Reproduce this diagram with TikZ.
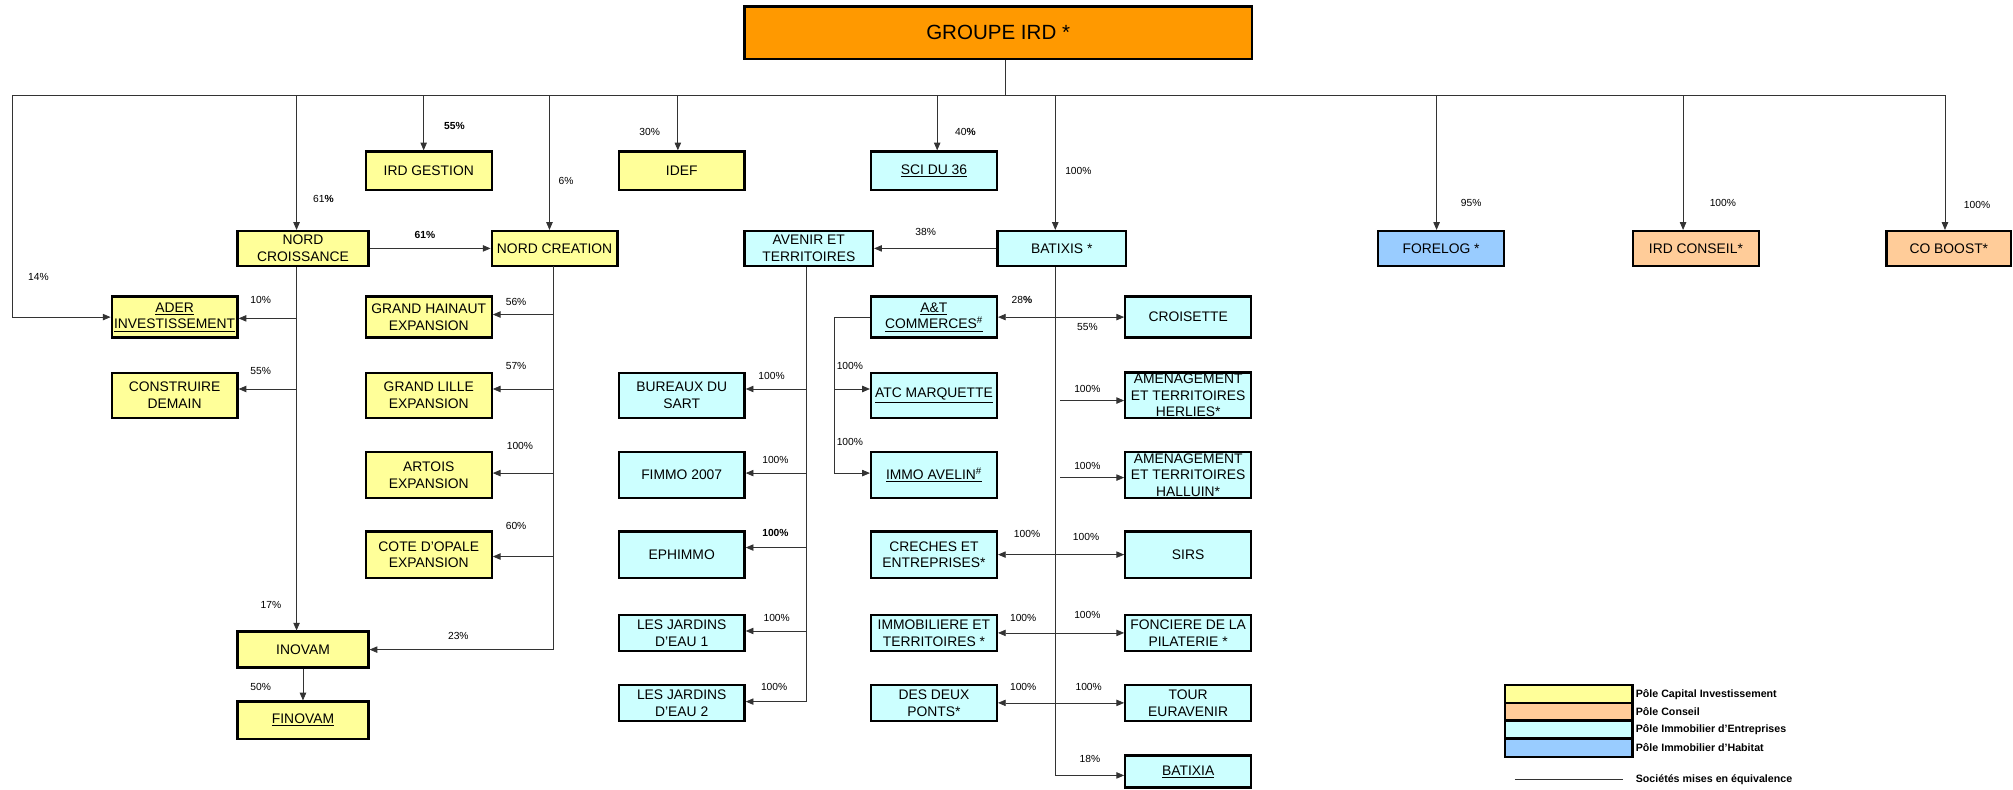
\documentclass[tikz,border=0pt]{standalone}
\usepackage{fontspec}
\setmainfont{Liberation Sans}
\usetikzlibrary{arrows.meta}
\definecolor{ylw}{HTML}{FFFF99}
\definecolor{org}{HTML}{FFCC99}
\definecolor{cyn}{HTML}{CCFFFF}
\definecolor{blu}{HTML}{99CCFF}
\definecolor{grptop}{HTML}{FF9900}
\tikzset{
  box/.style={draw,line width=1.8pt,minimum width=98pt,inner sep=1pt,align=center,font=\fontsize{10.8}{13}\selectfont},
  yb/.style={box,fill=ylw},
  ob/.style={box,fill=org},
  cb/.style={box,fill=cyn},
  bb/.style={box,fill=blu},
  pct/.style={font=\fontsize{8}{9}\selectfont},
  key/.style={anchor=west,inner sep=0pt,font=\fontsize{8.3}{9}\selectfont\bfseries},
  ln/.style={line width=0.6pt,black!80},
  arr/.style={ln,-{Triangle[length=6pt,width=5pt]}},
  arrb/.style={ln,{Triangle[length=6pt,width=5pt]}-{Triangle[length=6pt,width=5pt]}}
}
\begin{document}
\begin{tikzpicture}[x=1pt,y=-1pt]
\useasboundingbox (0,0) rectangle (1568,615);

\node[box,fill=grptop,minimum width=395pt,minimum height=41pt,font=\fontsize{16}{18}\selectfont] (grp) at (777.5,25.5) {GROUPE IRD *};

\node[yb,minimum height=30pt] (irdg) at (334,133) {IRD GESTION};
\node[yb,minimum height=30pt] (idef) at (531,133) {IDEF};
\node[cb,minimum height=30pt] (sci) at (727.5,133) {\underline{SCI DU 36}};

\node[yb,minimum width=102pt,minimum height=27pt] (ncro) at (236,193.5) {NORD\\CROISSANCE};
\node[yb,minimum height=27pt] (ncre) at (432,193.5) {NORD CREATION};
\node[cb,minimum width=100pt,minimum height=27pt] (avt) at (630,193.5) {AVENIR ET\\TERRITOIRES};
\node[cb,minimum width=100pt,minimum height=27pt] (bat) at (827,193.5) {BATIXIS *};
\node[bb,minimum height=27pt] (forelog) at (1122.5,193.5) {FORELOG *};
\node[ob,minimum height=27pt] (irdc) at (1321,193.5) {IRD CONSEIL*};
\node[ob,minimum width=97pt,minimum height=27pt] (coboost) at (1518,193.5) {CO BOOST*};

\node[yb,minimum height=32pt] (ader) at (136,247) {\underline{ADER}\\\underline{INVESTISSEMENT}};
\node[yb,minimum height=32pt] (ghain) at (334,247) {GRAND HAINAUT\\EXPANSION};
\node[cb,minimum height=32pt] (atc) at (727.5,247) {\underline{A\&T}\\\underline{COMMERCES\textsuperscript{\#}}};
\node[cb,minimum height=32pt] (crois) at (925.5,247) {CROISETTE};

\node[yb,minimum height=35pt] (cdem) at (136,308) {CONSTRUIRE\\DEMAIN};
\node[yb,minimum height=35pt] (glil) at (334,308) {GRAND LILLE\\EXPANSION};
\node[cb,minimum height=35pt] (bsart) at (531,308) {BUREAUX DU\\SART};
\node[cb,minimum height=35pt] (atcm) at (727.5,308) {\underline{ATC MARQUETTE}};
\node[cb,minimum height=35pt] (herlies) at (925.5,308) {AMENAGEMENT\\ET TERRITOIRES\\HERLIES*};

\node[yb,minimum height=36pt] (artois) at (334,370) {ARTOIS\\EXPANSION};
\node[cb,minimum height=36pt] (fimmo) at (531,370) {FIMMO 2007};
\node[cb,minimum height=36pt] (avelin) at (727.5,370) {\underline{IMMO AVELIN\textsuperscript{\#}}};
\node[cb,minimum height=36pt] (halluin) at (925.5,370) {AMENAGEMENT\\ET TERRITOIRES\\HALLUIN*};

\node[yb,minimum height=36pt] (cote) at (334,432) {COTE D'OPALE\\EXPANSION};
\node[cb,minimum height=36pt] (ephimmo) at (531,432) {EPHIMMO};
\node[cb,minimum height=36pt] (creches) at (727.5,432) {CRECHES ET\\ENTREPRISES*};
\node[cb,minimum height=36pt] (sirs) at (925.5,432) {SIRS};

\node[yb,minimum width=102pt,minimum height=28pt] (inovam) at (236,506) {INOVAM};
\node[cb,minimum height=28pt] (jard1) at (531,493) {LES JARDINS\\D'EAU 1};
\node[cb,minimum height=28pt] (immob) at (727.5,493) {IMMOBILIERE ET\\TERRITOIRES *};
\node[cb,minimum height=28pt] (pilat) at (925.5,493) {FONCIERE DE LA\\PILATERIE *};

\node[yb,minimum width=102pt,minimum height=29pt] (finovam) at (236,561) {\underline{FINOVAM}};
\node[cb,minimum height=28pt] (jard2) at (531,547.5) {LES JARDINS\\D'EAU 2};
\node[cb,minimum height=28pt] (ponts) at (727.5,547.5) {DES DEUX\\PONTS*};
\node[cb,minimum height=28pt] (tour) at (925.5,547.5) {TOUR\\EURAVENIR};
\node[cb,minimum height=25pt] (batixia) at (925.5,601) {\underline{BATIXIA}};

\coordinate (gj) at (783,74);
\coordinate (bL) at (10,74);
\coordinate (bR) at (1515,74);
\coordinate (d1) at (231,74);
\coordinate (d2) at (330,74);
\coordinate (d3) at (428,74);
\coordinate (d4) at (528,74);
\coordinate (d5) at (730,74);
\coordinate (d6) at (822,74);
\coordinate (d7) at (1119,74);
\coordinate (d8) at (1311,74);
\draw[ln] (gj |- grp.south) -- (gj);
\draw[ln] (bL) -- (bR);
\draw[arr] (bL) |- (ader.west);
\draw[arr] (d1) -- (d1 |- ncro.north);
\draw[arr] (d2) -- (d2 |- irdg.north);
\draw[arr] (d3) -- (d3 |- ncre.north);
\draw[arr] (d4) -- (d4 |- idef.north);
\draw[arr] (d5) -- (d5 |- sci.north);
\draw[arr] (d6) -- (d6 |- bat.north);
\draw[arr] (d7) -- (d7 |- forelog.north);
\draw[arr] (d8) -- (d8 |- irdc.north);
\draw[arr] (bR) -- (bR |- coboost.north);

\draw[arr] (ncro) -- (ncre);
\coordinate (n1) at (231,248);
\coordinate (n2) at (231,303);
\draw[arr] (d1 |- ncro.south) -- (d1 |- inovam.north);
\draw[arr] (n1) -- (n1 -| ader.east);
\draw[arr] (n2) -- (n2 -| cdem.east);
\draw[arr] (inovam) -- (finovam);

\coordinate (r0) at (431,207);
\coordinate (r1) at (431,245);
\coordinate (r2) at (431,303);
\coordinate (r3) at (431,368.5);
\coordinate (r4) at (431,433.5);
\draw[arr] (r0) |- (inovam.east);
\draw[arr] (r1) -- (r1 -| ghain.east);
\draw[arr] (r2) -- (r2 -| glil.east);
\draw[arr] (r3) -- (r3 -| artois.east);
\draw[arr] (r4) -- (r4 -| cote.east);

\draw[arr] (bat) -- (avt);
\coordinate (a1) at (628,303);
\coordinate (a2) at (628,368.5);
\coordinate (a3) at (628,426.5);
\coordinate (a4) at (628,491.5);
\coordinate (a5) at (628,546.5);
\draw[ln] (a5 |- avt.south) -- (a5);
\draw[arr] (a1) -- (a1 -| bsart.east);
\draw[arr] (a2) -- (a2 -| fimmo.east);
\draw[arr] (a3) -- (a3 -| ephimmo.east);
\draw[arr] (a4) -- (a4 -| jard1.east);
\draw[arr] (a5) -- (a5 -| jard2.east);

\coordinate (m1) at (650,303);
\coordinate (m2) at (650,368.5);
\draw[arr] (atc.west) -| (m2) -- (m2 -| avelin.west);
\draw[arr] (m1) -- (m1 -| atcm.west);

\coordinate (b7) at (822,604);
\coordinate (h1) at (826,312);
\coordinate (h2) at (826,372);
\draw[arr] (b7 |- bat.south) -- (b7) -- (b7 -| batixia.west);
\draw[arrb] (atc) -- (crois);
\draw[arr] (h1) -- (h1 -| herlies.west);
\draw[arr] (h2) -- (h2 -| halluin.west);
\draw[arrb] (creches) -- (sirs);
\draw[arrb] (immob) -- (pilat);
\draw[arrb] (ponts) -- (tour);

\node[pct] (p1) at (30,216) {14\%};
\node[pct] (p2) at (252,155) {61\textbf{\%}};
\node[pct,font=\fontsize{8}{9}\selectfont\bfseries] (p3) at (354,98) {55\%};
\node[pct] (p4) at (441,141) {6\%};
\node[pct] (p5) at (506,103) {30\%};
\node[pct] (p6) at (752,103) {40\textbf{\%}};
\node[pct] (p7) at (840,133) {100\%};
\node[pct] (p8) at (1146,158) {95\%};
\node[pct] (p9) at (1342,158) {100\%};
\node[pct] (p10) at (1540,160) {100\%};
\node[pct,font=\fontsize{8}{9}\selectfont\bfseries] (p11) at (331,183) {61\%};
\node[pct] (p12) at (203,234) {10\%};
\node[pct] (p13) at (203,289) {55\%};
\node[pct] (p14) at (211,471) {17\%};
\node[pct] (p15) at (203,535) {50\%};
\node[pct] (p16) at (402,235) {56\%};
\node[pct] (p17) at (402,285) {57\%};
\node[pct] (p18) at (405,347) {100\%};
\node[pct] (p19) at (402,410) {60\%};
\node[pct] (p20) at (357,495) {23\%};
\node[pct] (p21) at (721,181) {38\%};
\node[pct] (p22) at (601,293) {100\%};
\node[pct] (p23) at (604,358) {100\%};
\node[pct,font=\fontsize{8}{9}\selectfont\bfseries] (p24) at (604,415) {100\%};
\node[pct] (p25) at (605,481) {100\%};
\node[pct] (p26) at (603,535) {100\%};
\node[pct] (p27) at (662,285) {100\%};
\node[pct] (p28) at (662,344) {100\%};
\node[pct] (p29) at (796,234) {28\textbf{\%}};
\node[pct] (p30) at (847,255) {55\%};
\node[pct] (p31) at (847,303) {100\%};
\node[pct] (p32) at (847,363) {100\%};
\node[pct] (p33) at (800,416) {100\%};
\node[pct] (p34) at (846,418) {100\%};
\node[pct] (p35) at (797,481) {100\%};
\node[pct] (p36) at (847,479) {100\%};
\node[pct] (p37) at (797,535) {100\%};
\node[pct] (p38) at (848,535) {100\%};
\node[pct] (p39) at (849,591) {18\%};

\node[box,fill=ylw,minimum width=99pt,minimum height=14pt,inner sep=0pt] (k1) at (1222,540.7) {};
\node[box,fill=org,minimum width=99pt,minimum height=14pt,inner sep=0pt] (k2) at (1222,554.5) {};
\node[box,fill=cyn,minimum width=99pt,minimum height=14pt,inner sep=0pt] (k3) at (1222,568.2) {};
\node[box,fill=blu,minimum width=99pt,minimum height=14pt,inner sep=0pt] (k4) at (1222,582.4) {};
\node[key] (k1t) at (1274,540.7) {Pôle Capital Investissement};
\node[key] (k2t) at (1274,554.5) {Pôle Conseil};
\node[key] (k3t) at (1274,568.2) {Pôle Immobilier d'Entreprises};
\node[key] (k4t) at (1274,582.4) {Pôle Immobilier d'Habitat};
\coordinate (s1) at (1180,607);
\coordinate (s2) at (1264,607);
\draw[ln] (s1) -- (s2);
\node[key] (k5t) at (1274,607) {Sociétés mises en équivalence};
\end{tikzpicture}
\end{document}
